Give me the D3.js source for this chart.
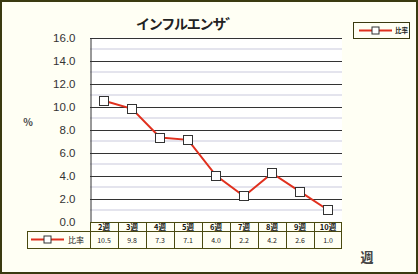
<!DOCTYPE html>
<html>
  <head>
    <meta charset="utf-8">
    <title>インフルエンザ</title>
    <style>
      body { margin:0; background:#fff; }
      text { font-family: "Noto Sans CJK JP", "DejaVu Sans", sans-serif; }
    </style>
  </head>
  <body>
    <div id="container"></div>
    <script src="https://cdn.jsdelivr.net/npm/d3@7"></script>
    <script>
      // data
      var weeks = ["2週","3週","4週","5週","6週","7週","8週","9週","10週"];
      var ratio = [10.5, 9.8, 7.3, 7.1, 4.0, 2.2, 4.2, 2.6, 1.0];
      var yTicks = [0, 2, 4, 6, 8, 10, 12, 14, 16];
      var minorTicks = [1, 3, 5, 7, 9, 11, 13, 15];
      var seriesName = "比率";

      var W = 418, H = 274;
      var plot = {left: 90, right: 342, top: 37.5, bottom: 221.5};

      var svg = d3.select("#container").append("svg")
        .attr("width", W).attr("height", H);

      // background + outer frame
      svg.append("rect").attr("x", 1).attr("y", 1).attr("width", W - 2).attr("height", H - 2)
        .attr("fill", "#fffff4").attr("stroke", "#3a3a10").attr("stroke-width", 2);

      var x = d3.scaleBand().domain(weeks).range([plot.left, plot.right]);
      var y = d3.scaleLinear().domain([0, 16]).range([plot.bottom, plot.top]);

      svg.append("rect").attr("x", plot.left).attr("y", plot.top)
        .attr("width", plot.right - plot.left).attr("height", plot.bottom - plot.top)
        .attr("fill", "#ffffff");

      // minor grid
      svg.selectAll(".minor").data(minorTicks).enter().append("line")
        .attr("x1", plot.left).attr("x2", plot.right)
        .attr("y1", d => y(d)).attr("y2", d => y(d))
        .attr("stroke", "#c9c9dc").attr("stroke-width", 1);

      // major grid
      svg.selectAll(".major").data(yTicks.filter(d => d > 0)).enter().append("line")
        .attr("x1", plot.left).attr("x2", plot.right)
        .attr("y1", d => Math.round(y(d)) + 0.5).attr("y2", d => Math.round(y(d)) + 0.5)
        .attr("stroke", "#333333").attr("stroke-width", 1);

      // y axis
      var yAxis = svg.append("g")
        .attr("transform", "translate(" + (plot.left + 0.5) + ",0)")
        .call(d3.axisLeft(y).tickValues(yTicks).tickFormat(d3.format(".1f")).tickSize(0).tickPadding(15));
      yAxis.select(".domain").attr("stroke", "#333");
      yAxis.selectAll("text").attr("font-size", 11.5).attr("fill", "#333")
        .style("font-family", "'Liberation Sans', Arial, sans-serif");

      // title
      svg.append("text").attr("x", 187).attr("y", 29).attr("text-anchor", "middle")
        .attr("font-size", 14).attr("font-weight", "bold").attr("fill", "#222")
        .attr("letter-spacing", -1.2)
        .text("インフルエンサ゛");

      svg.append("text").attr("x", 28).attr("y", 126).attr("text-anchor", "middle")
        .attr("font-size", 10).attr("font-weight", "bold").attr("fill", "#444").text("%");
      svg.append("text").attr("x", 367).attr("y", 262).attr("text-anchor", "middle")
        .attr("font-size", 13).attr("font-weight", "bold").attr("fill", "#444").text("週");

      // series line + markers
      var line = d3.line().x((d, i) => x(weeks[i]) + x.bandwidth() / 2).y(d => y(d));
      svg.append("path").datum(ratio).attr("d", line)
        .attr("fill", "none").attr("stroke", "#e0301e").attr("stroke-width", 2);
      svg.selectAll(".pt").data(ratio).enter().append("rect")
        .attr("x", (d, i) => Math.round(x(weeks[i]) + x.bandwidth() / 2) - 4.5)
        .attr("y", d => Math.round(y(d)) - 4.5)
        .attr("width", 9).attr("height", 9)
        .attr("fill", "#fff").attr("stroke", "#333").attr("stroke-width", 1);

      // data table under the plot
      var tb = {top: 222, mid: 231, bottom: 248, left: 27};
      var border = "#4a4a10";
      var t = svg.append("g");
      t.append("line").attr("x1", plot.left).attr("x2", plot.right).attr("y1", tb.top + 0.5).attr("y2", tb.top + 0.5).attr("stroke", border);
      t.append("line").attr("x1", tb.left).attr("x2", plot.right).attr("y1", tb.mid + 0.5).attr("y2", tb.mid + 0.5).attr("stroke", border);
      t.append("line").attr("x1", tb.left).attr("x2", plot.right).attr("y1", tb.bottom + 0.5).attr("y2", tb.bottom + 0.5).attr("stroke", border);
      t.append("line").attr("x1", tb.left + 0.5).attr("x2", tb.left + 0.5).attr("y1", tb.mid).attr("y2", tb.bottom + 1).attr("stroke", border);
      t.selectAll(".vl").data(weeks).enter().append("line")
        .attr("x1", d => Math.round(x(d)) + 0.5).attr("x2", d => Math.round(x(d)) + 0.5)
        .attr("y1", tb.top).attr("y2", tb.bottom + 1).attr("stroke", border);
      t.append("line").attr("x1", plot.right - 0.5).attr("x2", plot.right - 0.5)
        .attr("y1", tb.top).attr("y2", tb.bottom + 1).attr("stroke", border);

      t.selectAll(".hd").data(weeks).enter().append("text")
        .attr("x", d => x(d) + x.bandwidth() / 2).attr("y", tb.mid - 1.5)
        .attr("text-anchor", "middle").attr("font-size", 7.5).attr("font-weight", "bold").attr("fill", "#111")
        .text(d => d);
      t.selectAll(".val").data(ratio).enter().append("text")
        .attr("x", (d, i) => x(weeks[i]) + x.bandwidth() / 2).attr("y", tb.bottom - 5)
        .attr("text-anchor", "middle").attr("font-size", 7).attr("fill", "#222")
        .text(d => d3.format(".1f")(d));

      // legend key inside table
      function key(g, x0, x1, yy) {
        g.append("line").attr("x1", x0).attr("x2", x1).attr("y1", yy).attr("y2", yy)
          .attr("stroke", "#e0301e").attr("stroke-width", 2);
        g.append("rect").attr("x", (x0 + x1) / 2 - 3.5).attr("y", yy - 3.5).attr("width", 7).attr("height", 7)
          .attr("fill", "#fff").attr("stroke", "#333");
      }
      key(t, 31, 64, 239.5);
      t.append("text").attr("x", 68).attr("y", 242.5).attr("font-size", 8).attr("fill", "#222").text(seriesName);

      // legend box top right
      var lg = svg.append("g");
      lg.append("rect").attr("x", 353.5).attr("y", 22.5).attr("width", 56).attr("height", 16)
        .attr("fill", "#fffff4").attr("stroke", "#3a3a10");
      key(lg, 359, 392, 30.5);
      lg.append("text").attr("x", 395).attr("y", 33).attr("font-size", 6.5).attr("font-weight", "bold").attr("fill", "#222").text(seriesName);
    </script>
  </body>
</html>
